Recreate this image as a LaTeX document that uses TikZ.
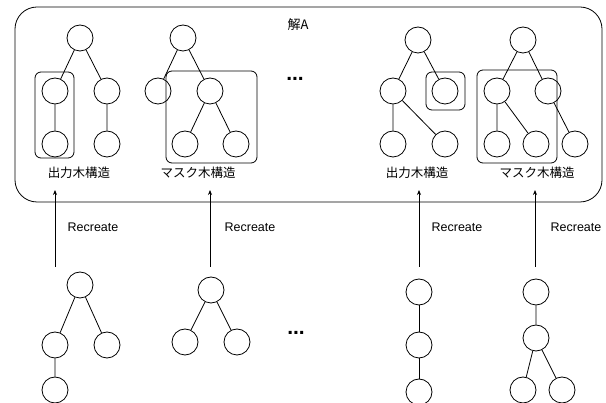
\documentclass[tikz,border=0pt]{standalone}
\usepackage{fontspec}
\setmainfont{Liberation Sans}
\newfontfamily\jp{Noto Sans CJK JP}
\usetikzlibrary{arrows.meta}
\begin{document}
\begin{tikzpicture}[x=1pt,y=-1pt,
  tn/.style={circle,draw,line width=0.8pt,minimum size=26pt,inner sep=0pt},
  edge/.style={line width=0.8pt},
  grp/.style={draw,rounded corners=6pt,line width=0.8pt,inner sep=0pt},
  lbl/.style={font=\jp\fontsize{12.5}{14}\selectfont,inner sep=0pt},
  rec/.style={font=\fontsize{12.5}{14}\selectfont,inner sep=0pt},
  arr/.style={line width=0.8pt,-{Stealth[length=5pt,width=4pt]}},
  dotsn/.style={font=\bfseries\fontsize{21}{21}\selectfont,inner sep=0pt}]
\useasboundingbox (0,0) rectangle (606,403);

% solution box
\node[draw,rounded corners=22pt,line width=0.8pt,minimum width=587pt,minimum height=195pt,inner sep=0pt] (solA) at (308.5,104.5) {};
\node[lbl,font=\jp\fontsize{13}{15}\selectfont] (title) at (298,25) {解A};

% tree 1
\node[tn] (a1) at (80,38) {};
\node[tn] (a2) at (55,91) {};
\node[tn] (a3) at (107,91) {};
\node[tn] (a4) at (55,144) {};
\node[tn] (a5) at (107,144) {};
\draw[edge] (a1) -- (a2) (a1) -- (a3) (a2) -- (a4) (a3) -- (a5);
\node[grp,minimum width=39pt,minimum height=86pt] (g1) at (54.5,115) {};
\node[lbl] (l1) at (79,173) {出力木構造};

% tree 2
\node[tn] (b1) at (183,38) {};
\node[tn] (b2) at (158,91) {};
\node[tn] (b3) at (210,91) {};
\node[tn] (b4) at (185,144) {};
\node[tn] (b5) at (236,144) {};
\draw[edge] (b1) -- (b2) (b1) -- (b3) (b3) -- (b4) (b3) -- (b5);
\node[grp,minimum width=91pt,minimum height=92pt] (g2) at (211.5,117) {};
\node[lbl] (l2) at (198,173) {マスク木構造};

\node[dotsn] (d1) at (295,79) {...};

% tree 3
\node[tn] (c1) at (418,40) {};
\node[tn] (c2) at (393,91) {};
\node[tn] (c3) at (445,91) {};
\node[tn] (c4) at (393,144) {};
\node[tn] (c5) at (445,144) {};
\draw[edge] (c1) -- (c2) (c1) -- (c3) (c2) -- (c4) (c2) -- (c5);
\node[grp,minimum width=39pt,minimum height=38pt] (g3) at (445.5,91) {};
\node[lbl] (l3) at (417,173) {出力木構造};

% tree 4
\node[tn] (e1) at (523,40) {};
\node[tn] (e2) at (497,91) {};
\node[tn] (e3) at (548,91) {};
\node[tn] (e4) at (497,144) {};
\node[tn] (e5) at (536,144) {};
\node[tn] (e6) at (575,144) {};
\draw[edge] (e1) -- (e2) (e1) -- (e3) (e2) -- (e4) (e2) -- (e5) (e3) -- (e6);
\node[grp,minimum width=80pt,minimum height=93pt] (g4) at (517,116.5) {};
\node[lbl] (l4) at (537,173) {マスク木構造};

% arrows
\coordinate (s1) at (55,267); \coordinate (t1) at (55,190);
\coordinate (s2) at (210,267); \coordinate (t2) at (210,190);
\coordinate (s3) at (419,267); \coordinate (t3) at (419,190);
\coordinate (s4) at (535,267); \coordinate (t4) at (535,190);
\draw[arr] (s1) -- (t1);
\draw[arr] (s2) -- (t2);
\draw[arr] (s3) -- (t3);
\draw[arr] (s4) -- (t4);
\node[rec] (r1) at (93,227) {Recreate};
\node[rec] (r2) at (250,227) {Recreate};
\node[rec] (r3) at (457,227) {Recreate};
\node[rec] (r4) at (576,227) {Recreate};

% bottom tree A
\node[tn] (p1) at (80,285) {};
\node[tn] (p2) at (55,345) {};
\node[tn] (p3) at (107,345) {};
\node[tn] (p4) at (55,390) {};
\draw[edge] (p1) -- (p2) (p1) -- (p3) (p2) -- (p4);

% bottom tree B
\node[tn] (q1) at (211,290) {};
\node[tn] (q2) at (185,342) {};
\node[tn] (q3) at (237,342) {};
\draw[edge] (q1) -- (q2) (q1) -- (q3);

\node[dotsn] (d2) at (296,333) {...};

% bottom tree C
\node[tn] (u1) at (419,292) {};
\node[tn] (u2) at (419,345) {};
\node[tn] (u3) at (419,392) {};
\draw[edge] (u1) -- (u2) (u2) -- (u3);

% bottom tree D
\node[tn] (v1) at (536,292) {};
\node[tn] (v2) at (536,338) {};
\node[tn] (v3) at (523,390) {};
\node[tn] (v4) at (562,390) {};
\draw[edge] (v1) -- (v2) (v2) -- (v3) (v2) -- (v4);
\end{tikzpicture}
\end{document}
